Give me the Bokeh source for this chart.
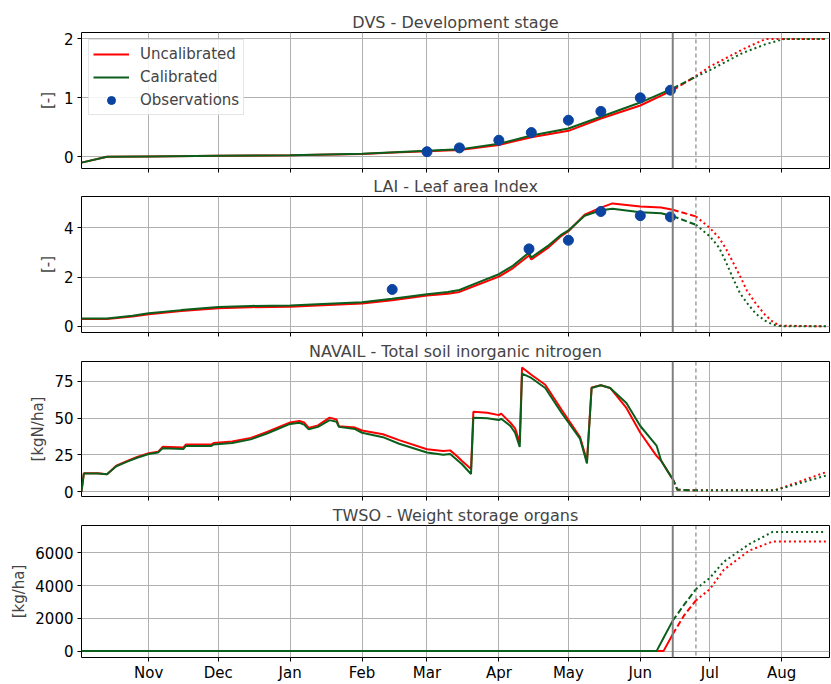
import pandas as pd
from bokeh.plotting import figure
from bokeh.models import Range1d, FixedTicker, Span, Legend, LegendItem
from bokeh.layouts import column
from bokeh.embed import file_html
from bokeh.resources import INLINE

# ---------------- data ----------------
month_ticks = ["2022-11-01", "2022-12-01", "2023-01-01", "2023-02-01", "2023-03-01",
               "2023-04-01", "2023-05-01", "2023-06-01", "2023-07-01", "2023-08-01"]
month_labels = ["Nov", "Dec", "Jan", "Feb", "Mar", "Apr", "May", "Jun", "Jul", "Aug"]

calib_end = "2023-06-15"      # end of solid part (vertical solid line)
forecast_start = "2023-06-25"  # start of dotted part (vertical dashed line)

dvs_dates = ["2022-10-03", "2022-10-14", "2022-11-01", "2022-12-01", "2023-01-01", "2023-02-01",
             "2023-02-15", "2023-03-01", "2023-03-15", "2023-04-01", "2023-04-15", "2023-05-01",
             "2023-05-15", "2023-06-01", "2023-06-15", "2023-06-25", "2023-07-01", "2023-07-15",
             "2023-07-25", "2023-08-02", "2023-08-20"]
dvs_uncal = [-0.10, 0.0, 0.005, 0.015, 0.025, 0.045, 0.07, 0.095, 0.115, 0.20, 0.33, 0.44,
             0.65, 0.87, 1.13, 1.37, 1.53, 1.82, 2.0, 2.0, 2.0]
dvs_cal = [-0.10, 0.0, 0.005, 0.015, 0.025, 0.05, 0.075, 0.10, 0.125, 0.22, 0.36, 0.48,
           0.68, 0.92, 1.16, 1.36, 1.47, 1.76, 1.91, 2.0, 2.0]
dvs_obs_dates = ["2023-03-01", "2023-03-15", "2023-04-01", "2023-04-15", "2023-05-01",
                 "2023-05-15", "2023-06-01", "2023-06-14"]
dvs_obs = [0.085, 0.15, 0.28, 0.41, 0.62, 0.77, 1.0, 1.13]

lai_dates = ["2022-10-03", "2022-10-14", "2022-10-25", "2022-11-01", "2022-11-15", "2022-12-01",
             "2022-12-15", "2023-01-01", "2023-01-15", "2023-02-01", "2023-02-14", "2023-03-01",
             "2023-03-10", "2023-03-15", "2023-03-22", "2023-04-01", "2023-04-07", "2023-04-14",
             "2023-04-15", "2023-04-22", "2023-04-28", "2023-05-01", "2023-05-08", "2023-05-15",
             "2023-05-20", "2023-06-01", "2023-06-10", "2023-06-15", "2023-06-25", "2023-07-01",
             "2023-07-05", "2023-07-08", "2023-07-11", "2023-07-14", "2023-07-17", "2023-07-21",
             "2023-07-25", "2023-07-28", "2023-07-31", "2023-08-20"]
lai_uncal = [0.30, 0.30, 0.40, 0.49, 0.62, 0.74, 0.78, 0.80, 0.86, 0.93, 1.06, 1.25,
             1.33, 1.40, 1.66, 2.02, 2.36, 2.88, 2.72, 3.18, 3.68, 3.87, 4.54, 4.83,
             5.00, 4.87, 4.83, 4.74, 4.47, 4.00, 3.60, 3.15, 2.60, 2.05, 1.45, 0.90,
             0.45, 0.20, 0.03, 0.0]
lai_cal = [0.32, 0.32, 0.43, 0.53, 0.66, 0.79, 0.83, 0.85, 0.91, 0.98, 1.12, 1.31,
           1.40, 1.48, 1.75, 2.12, 2.46, 3.00, 2.80, 3.26, 3.73, 3.90, 4.50, 4.72,
           4.78, 4.64, 4.60, 4.48, 4.13, 3.66, 3.20, 2.60, 1.95, 1.35, 0.95, 0.50,
           0.22, 0.08, 0.01, 0.0]
lai_obs_dates = ["2023-02-14", "2023-04-14", "2023-05-01", "2023-05-15", "2023-06-01", "2023-06-14"]
lai_obs = [1.5, 3.15, 3.5, 4.67, 4.5, 4.45]

nav_dates = ["2022-10-03", "2022-10-04", "2022-10-10", "2022-10-14", "2022-10-18", "2022-10-23",
             "2022-10-27", "2022-11-01", "2022-11-05", "2022-11-07", "2022-11-16", "2022-11-17",
             "2022-11-28", "2022-11-29", "2022-12-07", "2022-12-15", "2022-12-22", "2023-01-01",
             "2023-01-05", "2023-01-07", "2023-01-09", "2023-01-13", "2023-01-18", "2023-01-21",
             "2023-01-22", "2023-01-29", "2023-02-01", "2023-02-10", "2023-02-17", "2023-03-01",
             "2023-03-08", "2023-03-11", "2023-03-14", "2023-03-16", "2023-03-20", "2023-03-21",
             "2023-03-27", "2023-04-01", "2023-04-02", "2023-04-06", "2023-04-08", "2023-04-10",
             "2023-04-11", "2023-04-15", "2023-04-21", "2023-04-28", "2023-05-06", "2023-05-09",
             "2023-05-11", "2023-05-15", "2023-05-19", "2023-05-26", "2023-06-01", "2023-06-08",
             "2023-06-10", "2023-06-14", "2023-06-15", "2023-06-17", "2023-06-25", "2023-07-29",
             "2023-08-20"]
nav_uncal = [0.0, 12.4, 12.4, 11.8, 17.6, 21.0, 23.5, 26.0, 27.0, 30.4, 30.0, 32.0,
             32.0, 33.0, 34.0, 36.5, 40.5, 47.0, 48.0, 47.0, 43.3, 45.0, 50.3, 49.0,
             44.5, 43.5, 41.5, 39.0, 35.0, 28.8, 27.5, 28.0, 24.0, 20.9, 15.3, 54.3,
             53.6, 52.0, 53.0, 46.8, 43.0, 33.3, 84.4, 79.5, 72.7, 55.8, 37.0, 20.9,
             70.9, 72.3, 70.5, 56.9, 40.0, 24.3, 20.9, 10.8, 8.6, 1.2, 0.8, 0.8,
             13.1]
nav_cal = [0.0, 12.2, 12.2, 11.8, 17.2, 20.5, 23.0, 25.5, 26.5, 29.5, 29.0, 31.0,
           31.0, 32.0, 33.0, 35.5, 39.5, 46.0, 46.8, 45.5, 42.3, 44.0, 48.6, 47.5,
           44.0, 42.5, 40.0, 37.0, 32.5, 26.6, 25.0, 25.5, 21.5, 18.7, 11.9, 50.2,
           49.8, 48.6, 49.5, 44.6, 40.0, 30.4, 80.2, 77.3, 70.5, 53.6, 36.0, 19.1,
           70.5, 72.3, 70.5, 60.3, 44.6, 31.3, 20.9, 10.8, 8.6, 1.2, 0.8, 0.8,
           10.8]

twso_dates = ["2022-10-03", "2023-06-08", "2023-06-11", "2023-06-15", "2023-06-20", "2023-06-25",
              "2023-07-01", "2023-07-07", "2023-07-18", "2023-07-28", "2023-08-20"]
twso_uncal = [0, 0, 0, 1035, 2200, 3094, 3782, 4960, 6135, 6685, 6685]
twso_cal = [0, 0, 800, 1860, 2850, 3782, 4470, 5450, 6530, 7270, 7270]

# ---------------- style ----------------
RED = "#ff0000"
GREEN = "#0b5f1c"
BLUE = "#0a43a0"
FONT = "DejaVu Sans"


def ms(d):
    return pd.Timestamp(d).value / 1e6


def split(dates, vals):
    xs = [ms(d) for d in dates]
    a, b = ms(calib_end), ms(forecast_start)
    solid = [(x, v) for x, v in zip(xs, vals) if x <= a]
    dash = [(x, v) for x, v in zip(xs, vals) if a <= x <= b]
    dot = [(x, v) for x, v in zip(xs, vals) if x >= b]
    return solid, dash, dot


x_range = Range1d(ms("2022-10-03"), ms("2022-10-03") + 322.6 * 86400000)
tick_ms = [ms(d) for d in month_ticks]
W = 831


def make_fig(title, ylabel, y0, y1, yticks, height, top, bottom, labels):
    p = figure(width=W, height=height, x_range=x_range, y_range=Range1d(y0, y1),
               x_axis_type="datetime", output_backend="svg", toolbar_location=None,
               min_border_left=81, min_border_right=2, min_border_top=top,
               min_border_bottom=bottom, title=title)
    p.title.text_font = FONT
    p.title.text_font_size = "16px"
    p.title.text_font_style = "normal"
    p.title.align = "center"
    p.title.standoff = 2
    p.outline_line_color = "black"
    p.outline_line_width = 1
    p.background_fill_color = "white"
    for ax in (p.xaxis[0], p.yaxis[0]):
        ax.axis_line_color = None
        ax.major_tick_out = 4
        ax.major_tick_in = 0
        ax.minor_tick_line_color = None
        ax.major_tick_line_color = "black"
        ax.major_label_text_font = FONT
        ax.major_label_text_font_size = "15px"
        ax.major_label_text_color = "black"
        ax.major_label_standoff = 4
    p.xaxis.ticker = FixedTicker(ticks=tick_ms)
    if labels:
        p.xaxis.major_label_overrides = {t: l for t, l in zip(tick_ms, month_labels)}
        p.xaxis.major_label_standoff = 2
    else:
        p.xaxis.major_label_overrides = {t: "" for t in tick_ms}
        p.xaxis.major_label_text_font_size = "0px"
        p.xaxis.major_label_standoff = 0
    p.yaxis.ticker = FixedTicker(ticks=yticks)
    p.yaxis.axis_label = ylabel
    p.yaxis.axis_label_text_font = FONT
    p.yaxis.axis_label_text_font_size = "15px"
    p.yaxis.axis_label_text_font_style = "normal"
    p.yaxis.axis_label_standoff = 4
    p.xgrid.ticker = FixedTicker(ticks=tick_ms)
    p.ygrid.ticker = FixedTicker(ticks=yticks)
    for g in (p.xgrid[0], p.ygrid[0]):
        g.grid_line_color = "#b0b0b0"
        g.grid_line_width = 1
    p.add_layout(Span(location=ms(calib_end), dimension="height",
                      line_color="#808080", line_width=2))
    p.add_layout(Span(location=ms(forecast_start), dimension="height",
                      line_color="#707070", line_width=1, line_dash="4 3"))
    return p


def draw(p, dates, uncal, cal):
    rs = []
    for vals, col in ((uncal, RED), (cal, GREEN)):
        solid, dash, dot = split(dates, vals)
        r = p.line([s[0] for s in solid], [s[1] for s in solid], line_color=col, line_width=2)
        p.line([s[0] for s in dash], [s[1] for s in dash], line_color=col, line_width=2,
               line_dash="6 3")
        p.line([s[0] for s in dot], [s[1] for s in dot], line_color=col, line_width=2,
               line_dash="2 3")
        rs.append(r)
    return rs


p1 = make_fig("DVS - Development stage", "[-]", -0.2, 2.11, [0, 1, 2], 173, 32, 5, False)
r_unc, r_cal = draw(p1, dvs_dates, dvs_uncal, dvs_cal)
r_obs = p1.scatter([ms(d) for d in dvs_obs_dates], dvs_obs, size=10, color=BLUE)
legend = Legend(items=[LegendItem(label="Uncalibrated", renderers=[r_unc]),
                       LegendItem(label="Calibrated", renderers=[r_cal]),
                       LegendItem(label="Observations", renderers=[r_obs])],
                location="top_left", margin=7, padding=4, spacing=3,
                label_height=20, glyph_height=20, glyph_width=36, label_standoff=11,
                label_text_font=FONT, label_text_font_size="15px",
                border_line_color="#cccccc", border_line_width=1,
                background_fill_alpha=0.85)
p1.add_layout(legend)

p2 = make_fig("LAI - Leaf area Index", "[-]", -0.25, 5.28, [0, 2, 4], 165, 22, 6, False)
draw(p2, lai_dates, lai_uncal, lai_cal)
p2.scatter([ms(d) for d in lai_obs_dates], lai_obs, size=10, color=BLUE)

p3 = make_fig("NAVAIL - Total soil inorganic nitrogen", "[kgN/ha]", -3.4, 88.5,
              [0, 25, 50, 75], 164, 22, 6, False)
draw(p3, nav_dates, nav_uncal, nav_cal)

p4 = make_fig("TWSO - Weight storage organs", "[kg/ha]", -390, 7665,
              [0, 2000, 4000, 6000], 182, 22, 16, True)
draw(p4, twso_dates, twso_uncal, twso_cal)

layout = column(p1, p2, p3, p4, spacing=0)
open("out.html", "w").write(file_html(layout, INLINE))
